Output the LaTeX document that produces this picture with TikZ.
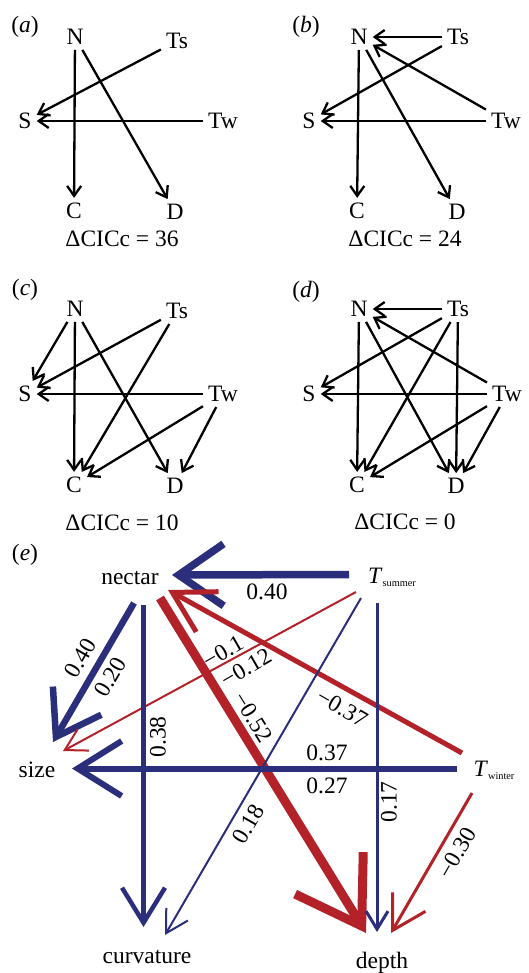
\documentclass[tikz,border=0pt]{standalone}
\usepackage{fontspec}
\setmainfont{Liberation Serif}
\usetikzlibrary{arrows.meta}
\definecolor{eblue}{RGB}{43,46,122}
\definecolor{ered}{RGB}{178,34,40}
\begin{document}
\begin{tikzpicture}[x=1pt,y=-1pt,
  txt/.style={font=\fontsize{23.5}{28}\selectfont, inner sep=0pt},
  vx/.style={font=\fontsize{23.5}{28}\selectfont, inner sep=5pt},
  sa/.style={line width=2.3pt, -{Straight Barb[length=10pt,width=14pt]}},
  lab/.style={font=\fontsize{23.5}{28}\selectfont, inner sep=0pt},
  bl/.style={draw=eblue},
  rd/.style={draw=ered}]
\useasboundingbox (0,0) rectangle (528,973);

% ---------- panel (a)
\node[txt] (la) at (25,27) {(\textit{a})};
\node[vx] (aN) at (75,37) {N};
\node[vx] (aTs) at (177,41) {Ts};
\node[vx] (aS) at (25,121) {S};
\node[vx] (aTw) at (223,121) {Tw};
\node[vx] (aC) at (74,211) {C};
\node[vx] (aD) at (175,212) {D};
\node[txt] (aX) at (122,239) {ΔCICc = 36};
\draw[sa] (aN) -- (aC);
\draw[sa] (aN) -- (aD);
\draw[sa] (aTs) -- (aS);
\draw[sa] (aTw) -- (aS);

% ---------- panel (b)
\node[txt] (lb) at (306,27) {(\textit{b})};
\node[vx] (bN) at (359,37) {N};
\node[vx] (bTs) at (458,37) {Ts};
\node[vx] (bS) at (309,121) {S};
\node[vx] (bTw) at (506,121) {Tw};
\node[vx] (bC) at (357,211) {C};
\node[vx] (bD) at (457,212) {D};
\node[txt] (bX) at (405,239) {ΔCICc = 24};
\draw[sa] (bTs) -- (bN);
\draw[sa] (bTw) -- (bN);
\draw[sa] (bN) -- (bC);
\draw[sa] (bN) -- (bD);
\draw[sa] (bTs) -- (bS);
\draw[sa] (bTw) -- (bS);

% ---------- panel (c)
\node[txt] (lc) at (25,290) {(\textit{c})};
\node[vx] (cN) at (75,309) {N};
\node[vx] (cTs) at (177,311) {Ts};
\node[vx] (cS) at (25,394) {S};
\node[vx] (cTw) at (223,394) {Tw};
\node[vx] (cC) at (74,485) {C};
\node[vx] (cD) at (175,486) {D};
\node[txt] (cX) at (122,523) {ΔCICc = 10};
\draw[sa] (cN) -- (cS);
\draw[sa] (cTs) -- (cS);
\draw[sa] (cTw) -- (cS);
\draw[sa] (cN) -- (cC);
\draw[sa] (cTs) -- (cC);
\draw[sa] (cTw) -- (cC);
\draw[sa] (cN) -- (cD);
\draw[sa] (cTw) -- (cD);

% ---------- panel (d)
\node[txt] (ld) at (306,292) {(\textit{d})};
\node[vx] (dN) at (359,309) {N};
\node[vx] (dTs) at (458,309) {Ts};
\node[vx] (dS) at (309,394) {S};
\node[vx] (dTw) at (507,394) {Tw};
\node[vx] (dC) at (357,485) {C};
\node[vx] (dD) at (456,486) {D};
\node[txt] (dX) at (405,522) {ΔCICc = 0};
\draw[sa] (dTs) -- (dN);
\draw[sa] (dTw) -- (dN);
\draw[sa] (dTs) -- (dS);
\draw[sa] (dTw) -- (dS);
\draw[sa] (dN) -- (dC);
\draw[sa] (dTs) -- (dC);
\draw[sa] (dTw) -- (dC);
\draw[sa] (dN) -- (dD);
\draw[sa] (dTs) -- (dD);
\draw[sa] (dTw) -- (dD);

% ---------- panel (e)
\node[txt] (le) at (25,555) {(\textit{e})};
\node[txt] (nec) at (130,578) {nectar};
\node[txt] (tsu) at (392,577) {\textit{T}\raisebox{-3pt}{\fontsize{10.3}{12}\selectfont summer}};
\node[txt] (siz) at (37,770) {size};
\node[txt] (twi) at (494,770) {\textit{T}\raisebox{-3pt}{\fontsize{10.3}{12}\selectfont winter}};
\node[txt] (cur) at (147,957) {curvature};
\node[txt] (dep) at (382,963) {depth};

% Tsummer -> nectar
\draw[bl, line width=7.5pt, -{Straight Barb[length=45pt,width=62pt]}]
  ([shift={(-43,-2.5)}]tsu.center) -- ([shift={(42,-3)}]nec.center);
% nectar -> size
\draw[bl, line width=6.5pt, -{Straight Barb[length=42pt,width=56pt]}]
  ([shift={(4,25)}]nec.center) -- ([shift={(16,-28)}]siz.center);
% Tsummer -> size
\draw[rd, line width=2pt, -{Straight Barb[length=21pt,width=24pt]}]
  ([shift={(-36,15)}]tsu.center) -- ([shift={(26,-19)}]siz.center);
% Twinter -> nectar
\draw[rd, line width=5pt, -{Straight Barb[length=40pt,width=46pt]}]
  ([shift={(-32,-17)}]twi.center) -- ([shift={(38,12)}]nec.center);
% nectar -> depth
\draw[rd, line width=9pt, -{Straight Barb[length=62pt,width=80pt]}]
  ([shift={(30,20)}]nec.center) -- ([shift={(-16,-30)}]dep.center);
% nectar -> curvature
\draw[bl, line width=4.5pt, -{Straight Barb[length=35pt,width=43pt]}]
  ([shift={(13.5,27)}]nec.center) -- ([shift={(-3.5,-30)}]cur.center);
% Tsummer -> curvature
\draw[bl, line width=2pt, -{Straight Barb[length=22pt,width=25pt]}]
  ([shift={(-31,21)}]tsu.center) -- ([shift={(18,-22)}]cur.center);
% Twinter -> size
\draw[bl, line width=6pt, -{Straight Barb[length=44pt,width=55pt]}]
  ([shift={(-37,-1.5)}]twi.center) -- ([shift={(35,-1.5)}]siz.center);
% Tsummer -> depth
\draw[bl, line width=3pt, -{Straight Barb[length=18pt,width=22pt]}]
  ([shift={(-15,26)}]tsu.center) -- ([shift={(-5,-31)}]dep.center);
% Twinter -> depth
\draw[rd, line width=3pt, -{Straight Barb[length=33pt,width=38pt]}]
  ([shift={(-22,23)}]twi.center) -- ([shift={(9,-30)}]dep.center);

% labels
\node[lab] (l1) at (267,592) {0.40};
\node[lab, rotate=60] (l2) at (80,658) {0.40};
\node[lab, rotate=60] (l3) at (110,677) {0.20};
\node[lab, rotate=30] (l4) at (223,652) {−0.1};
\node[lab, rotate=30] (l5) at (246,668) {−0.12};
\node[lab, rotate=-58] (l6) at (253,717) {−0.52};
\node[lab, rotate=-30] (l7) at (342,708) {−0.37};
\node[lab, rotate=90] (l8) at (158,737) {0.38};
\node[lab, rotate=60] (l9) at (248,824) {0.18};
\node[lab] (l10) at (327,753) {0.37};
\node[lab] (l11) at (327,786) {0.27};
\node[lab, rotate=90] (l12) at (389,802) {0.17};
\node[lab, rotate=60] (l13) at (457,853) {−0.30};
\end{tikzpicture}
\end{document}
